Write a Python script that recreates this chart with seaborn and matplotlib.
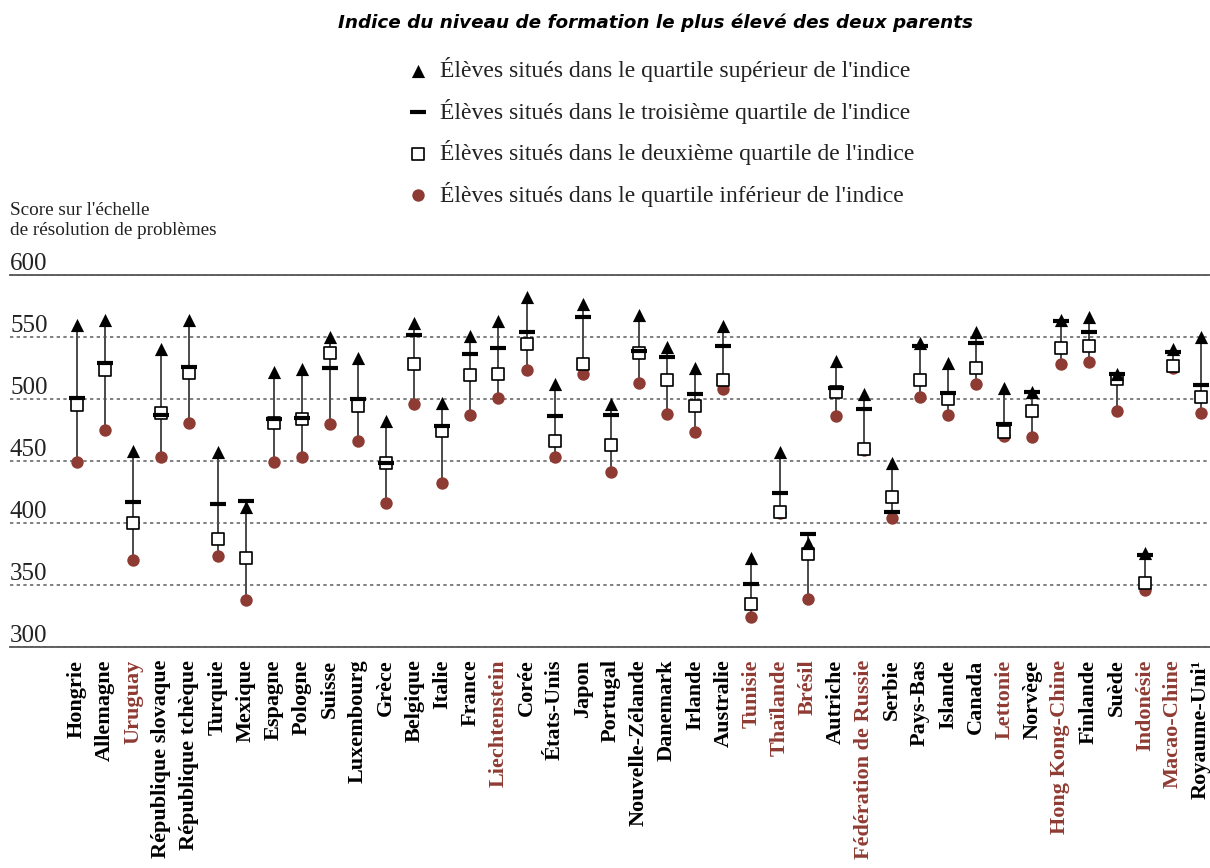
import matplotlib
matplotlib.use("Agg")
import matplotlib.pyplot as plt
import numpy as np
import pandas as pd
import seaborn as sns

countries = ["Hongrie", "Allemagne", "Uruguay", "République slovaque", "République tchèque",
             "Turquie", "Mexique", "Espagne", "Pologne", "Suisse", "Luxembourg", "Grèce",
             "Belgique", "Italie", "France", "Liechtenstein", "Corée", "États-Unis", "Japon",
             "Portugal", "Nouvelle-Zélande", "Danemark", "Irlande", "Australie", "Tunisie",
             "Thaïlande", "Brésil", "Autriche", "Fédération de Russie", "Serbie", "Pays-Bas",
             "Islande", "Canada", "Lettonie", "Norvège", "Hong Kong-Chine", "Finlande", "Suède",
             "Indonésie", "Macao-Chine", "Royaume-Uni¹"]
partners = ["Uruguay", "Liechtenstein", "Tunisie", "Thaïlande", "Brésil", "Fédération de Russie",
            "Lettonie", "Hong Kong-Chine", "Indonésie", "Macao-Chine"]

top_q = [560, 564, 458, 540, 564, 457, 413, 522, 524, 550, 533, 482, 561, 497, 551, 563, 582,
         512, 577, 496, 568, 542, 525, 559, 372, 457, 384, 531, 504, 448, 545, 529, 554, 509,
         506, 564, 566, 520, 376, 540, 550]
third_q = [501, 529, 417, 487, 526, 415, 418, 484, 485, 525, 500, 448, 552, 478, 536, 541, 554,
           486, 566, 487, 539, 534, 504, 543, 351, 424, 391, 509, 492, 409, 543, 505, 545, 480,
           506, 563, 554, 520, 374, 538, 511]
second_q = [495, 523, 400, 489, 521, 387, 372, 481, 484, 537, 494, 448, 528, 474, 519, 520, 544,
            466, 528, 463, 537, 515, 494, 515, 335, 409, 375, 506, 460, 421, 515, 500, 525, 473,
            490, 541, 543, 516, 352, 527, 502]
bottom_q = [449, 475, 370, 453, 481, 373, 338, 449, 453, 480, 466, 416, 496, 432, 487, 501, 523,
            453, 520, 441, 513, 488, 473, 508, 324, 408, 339, 486, 459, 404, 502, 487, 512, 470,
            469, 528, 530, 490, 346, 525, 489]

labels = ["Élèves situés dans le quartile supérieur de l'indice",
          "Élèves situés dans le troisième quartile de l'indice",
          "Élèves situés dans le deuxième quartile de l'indice",
          "Élèves situés dans le quartile inférieur de l'indice"]
y_ticks = [300, 350, 400, 450, 500, 550, 600]

RED = "#8e3b33"
SERIF = ["Liberation Serif", "DejaVu Serif"]

df = pd.DataFrame({"pos": np.arange(len(countries)), "country": countries,
                   "top": top_q, "third": third_q, "second": second_q, "bottom": bottom_q})

sns.set_theme(style="white")
plt.rcParams["font.family"] = SERIF

fig = plt.figure(figsize=(12.10, 8.68), dpi=100)
ax = fig.add_axes([10 / 1210, 221 / 868, 1200 / 1210, 372 / 868])

# vertical range lines
vals = df[["top", "third", "second", "bottom"]]
ax.vlines(df["pos"], vals.min(axis=1), vals.max(axis=1), color="#4a4a4a", lw=1.4, zorder=2)

sns.scatterplot(data=df, x="pos", y="bottom", ax=ax, marker="o", s=80, color=RED,
                edgecolor=RED, linewidth=0, label=labels[3], zorder=3)
sns.scatterplot(data=df, x="pos", y="second", ax=ax, marker="s", s=80, color="white",
                edgecolor="black", linewidth=1.2, label=labels[2], zorder=4)
sns.scatterplot(data=df, x="pos", y="top", ax=ax, marker="^", s=90, color="black",
                edgecolor="black", linewidth=0, label=labels[0], zorder=5)
sns.scatterplot(data=df, x="pos", y="third", ax=ax, marker="_", s=140, color="black",
                edgecolor="black", linewidth=3, label=labels[1], zorder=6)

ax.set_ylim(300, 600)
ax.set_xlim(-(77 - 10) / 28.1, len(countries) - 1 + 9 / 28.1)
ax.set_xlabel("")
ax.set_ylabel("")

# grid
ax.set_yticks(y_ticks)
ax.set_yticklabels([str(v) for v in y_ticks])
ax.grid(axis="y", color="#6a6a6a", linestyle=(0, (2.0, 2.0)), linewidth=1.2, zorder=0)
ax.grid(axis="x", visible=False)
for side in ["left", "right"]:
    ax.spines[side].set_visible(False)
for side in ["top", "bottom"]:
    ax.spines[side].set_visible(True)
    ax.spines[side].set_color("#555555")
    ax.spines[side].set_linewidth(1.3)

ax.tick_params(axis="y", which="major", length=0, pad=0, labelsize=18, labelcolor="#222222")
for lab in ax.get_yticklabels():
    lab.set_horizontalalignment("left")
    lab.set_verticalalignment("bottom")
    lab.set_fontfamily(SERIF)
# thick black segments at 300 and 600
ax.set_yticks([300, 600], minor=True)
ax.tick_params(axis="y", which="minor", direction="in", length=27.5, width=4, color="black",
               left=True)

ax.set_xticks(df["pos"])
ax.set_xticklabels(countries, rotation=90, fontsize=16.0, fontweight="bold", fontfamily=SERIF)
ax.tick_params(axis="x", length=0, pad=9)
for lab in ax.get_xticklabels():
    lab.set_color(RED if lab.get_text() in partners else "black")

# legend
h, l = ax.get_legend_handles_labels()
order = [l.index(t) for t in labels]
if ax.get_legend():
    ax.get_legend().remove()
fig.legend([h[i] for i in order], [l[i] for i in order], loc="upper left",
           bbox_to_anchor=(406 / 1210, 1 - 57 / 868), frameon=False,
           handlelength=1.0, handletextpad=0.43, labelspacing=0.70, borderpad=0,
           borderaxespad=0, prop={"family": SERIF, "size": 17}, labelcolor="#222222")

fig.text(655 / 1210, 1 - 23 / 868, "Indice du niveau de formation le plus élevé des deux parents",
         ha="center", va="center", fontsize=13.2, fontweight="bold", fontstyle="italic",
         family=["DejaVu Sans"], color="black")
fig.text(10 / 1210, 1 - 202 / 868, "Score sur l'échelle\nde résolution de problèmes",
         ha="left", va="top", fontsize=13.8, family=SERIF, linespacing=1.2, color="#222222")

fig.savefig("out.png", dpi=100)
